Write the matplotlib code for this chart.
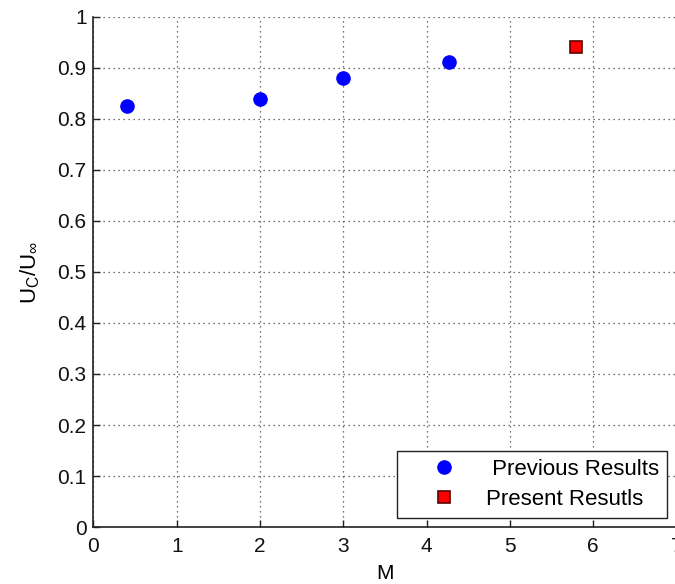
import matplotlib.pyplot as plt

plt.rcParams['font.family'] = ['Liberation Sans', 'DejaVu Sans']
plt.rcParams['mathtext.fontset'] = 'custom'
plt.rcParams['mathtext.rm'] = 'Liberation Sans'
plt.rcParams['mathtext.it'] = 'Liberation Sans'

# convection velocity ratio vs Mach number
m_prev = [0.4, 2.0, 3.0, 4.27]
uc_prev = [0.825, 0.84, 0.881, 0.911]
m_present = [5.8]
uc_present = [0.942]

xticks = [0, 1, 2, 3, 4, 5, 6, 7]
yticks = [0, 0.1, 0.2, 0.3, 0.4, 0.5, 0.6, 0.7, 0.8, 0.9, 1]

fig = plt.figure(figsize=(6.75, 5.84), dpi=100)
ax = fig.add_axes([0.1385, 0.0976, 0.8635, 0.8733])

ax.plot(m_prev, uc_prev, 'o', color='#0000ff', markersize=9.5,
        label=' Previous Results')
ax.plot(m_present, uc_present, 's', markerfacecolor='#ff0000',
        markeredgecolor='#5a0000', markeredgewidth=1.2, markersize=8,
        label='Present Resutls')

ax.set_xlim(0, 7)
ax.set_ylim(0, 1)
ax.set_xticks(xticks)
ax.set_yticks(yticks)
ax.set_xticklabels([str(t) for t in xticks])
ax.set_yticklabels(['0', '0.1', '0.2', '0.3', '0.4', '0.5', '0.6', '0.7',
                    '0.8', '0.9', '1'])

ax.grid(True, linestyle=(0, (1, 3)), color='#444444', linewidth=0.9)
ax.set_axisbelow(True)
for s in ['top', 'right']:
    ax.spines[s].set_visible(False)
for s in ['left', 'bottom']:
    ax.spines[s].set_linewidth(1.2)
    ax.spines[s].set_color('#222222')

ax.tick_params(direction='in', length=5, width=1, labelsize=15,
               colors='#222222', labelcolor='#111111')
ax.tick_params(axis='x', pad=7)
ax.tick_params(axis='y', pad=5)

ax.set_xlabel('M', fontsize=15, labelpad=6)
ax.set_ylabel(r'U$_C$/U$_\infty$', fontsize=16, labelpad=11)

leg = ax.legend(loc='lower right', bbox_to_anchor=(0.9877, 0.113),
                bbox_transform=fig.transFigure, borderaxespad=0,
                fancybox=False, framealpha=1, edgecolor='#222222',
                fontsize=16, handletextpad=0.15, borderpad=0.35,
                labelspacing=0.42, handlelength=3.5, numpoints=1)
leg.get_frame().set_linewidth(1.0)

fig.savefig('out.png', dpi=100)
